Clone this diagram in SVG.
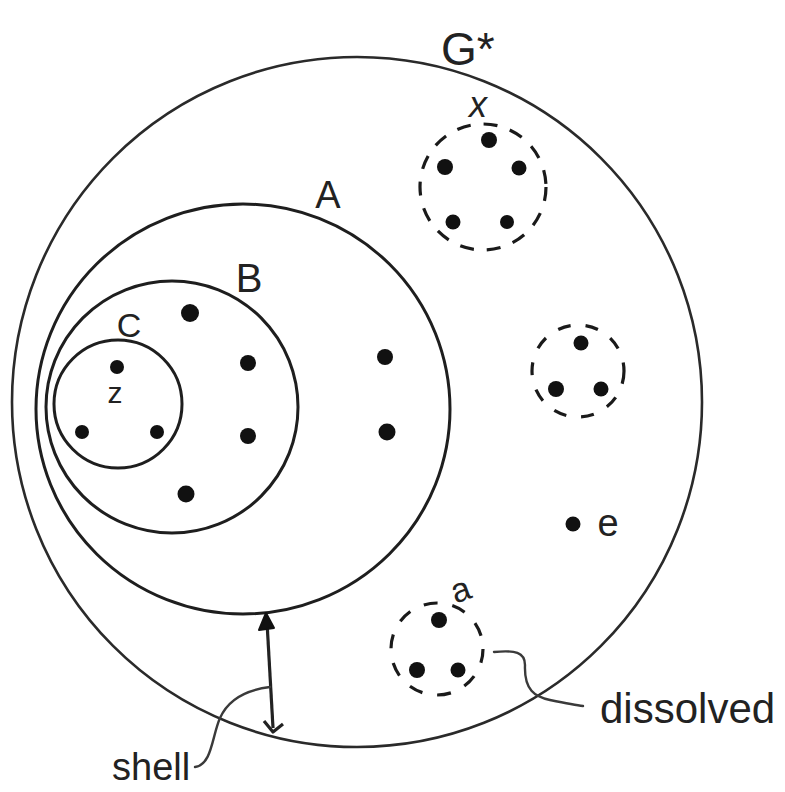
<svg xmlns="http://www.w3.org/2000/svg" width="785" height="792" viewBox="0 0 785 792">
<style>
.ring{fill:none;stroke:#1e1e1e;stroke-width:3}
.outer{fill:none;stroke:#2a2a2a;stroke-width:2.6}
.dash{fill:none;stroke:#1a1a1a;stroke-width:3.2}
.dot{fill:#111}
.lbl{font-family:"Liberation Sans",Arial,sans-serif;fill:#222}
.lead{fill:none;stroke:#3a3a3a;stroke-width:2.4;stroke-linecap:round}
</style>
<rect width="785" height="792" fill="#fff"/>
<g id="G">
  <circle class="outer" cx="357" cy="402" r="345"/>
  <text class="lbl" x="441" y="65" font-size="46">G*</text>
</g>
<g id="A">
  <ellipse class="ring" cx="243" cy="409" rx="207" ry="205" stroke-width="2.6"/>
  <text class="lbl" x="328" y="208" font-size="38" text-anchor="middle">A</text>
  <circle class="dot" cx="385" cy="357" r="8"/>
  <circle class="dot" cx="387" cy="432" r="8.5"/>
</g>
<g id="B">
  <circle class="ring" cx="172" cy="407" r="126"/>
  <text class="lbl" x="249" y="292" font-size="40" text-anchor="middle">B</text>
  <circle class="dot" cx="190" cy="313" r="9"/>
  <circle class="dot" cx="248" cy="363" r="8"/>
  <circle class="dot" cx="248" cy="436" r="8"/>
  <circle class="dot" cx="186" cy="494" r="8.5"/>
</g>
<g id="C">
  <circle class="ring" cx="118" cy="404" r="64"/>
  <text class="lbl" x="129" y="337" font-size="34" text-anchor="middle">C</text>
  <circle class="dot" cx="117" cy="367" r="7"/>
  <text class="lbl" x="115" y="403" font-size="30" text-anchor="middle">z</text>
  <circle class="dot" cx="82" cy="432" r="7"/>
  <circle class="dot" cx="157" cy="432" r="7"/>
</g>
<g id="x">
  <circle class="dash" cx="483" cy="187" r="63" stroke-dasharray="14 13"/>
  <text class="lbl" x="478" y="117" font-size="36" text-anchor="middle" font-style="italic">x</text>
  <circle class="dot" cx="489" cy="140" r="8"/>
  <circle class="dot" cx="445" cy="167" r="8"/>
  <circle class="dot" cx="519" cy="168" r="7.5"/>
  <circle class="dot" cx="453" cy="222" r="7.5"/>
  <circle class="dot" cx="507" cy="222" r="7"/>
</g>
<g id="mid">
  <circle class="dash" cx="578" cy="371" r="46" stroke-dasharray="13 15"/>
  <circle class="dot" cx="581" cy="343" r="7.5"/>
  <circle class="dot" cx="556" cy="389" r="8"/>
  <circle class="dot" cx="601" cy="389" r="7.5"/>
</g>
<g id="e">
  <circle class="dot" cx="573" cy="524" r="7.5"/>
  <text class="lbl" x="608" y="536" font-size="38" text-anchor="middle">e</text>
</g>
<g id="a">
  <circle class="dash" cx="437" cy="649" r="46" stroke-dasharray="14 15"/>
  <text class="lbl" x="462" y="601" font-size="34" text-anchor="middle" transform="rotate(-20 462 594)">a</text>
  <circle class="dot" cx="439" cy="620" r="8"/>
  <circle class="dot" cx="417" cy="670" r="8"/>
  <circle class="dot" cx="458" cy="670" r="7.5"/>
</g>
<g id="shell">
  <text class="lbl" x="112" y="780" font-size="38">shell</text>
</g>
<g id="dissolved">
  <text class="lbl" x="600" y="723" font-size="42">dissolved</text>
</g>
<g id="connectors">
  <path d="M267,622 L273,728" fill="none" stroke="#222" stroke-width="3.2"/>
  <path d="M266,613 L259,630 L274,628 Z" fill="#111" stroke="#111" stroke-width="2" stroke-linejoin="round"/>
  <path d="M264,721 L273,732 L283,724" fill="none" stroke="#222" stroke-width="3.2" stroke-linejoin="round"/>
  <path class="lead" d="M195,767 C212,765 212,736 220,718 C228,700 245,690 270,687"/>
  <path class="lead" d="M494,652 C515,650 525,652 525,665 C524,690 535,697 550,700 C565,703 575,705 583,706"/>
</g>
</svg>
